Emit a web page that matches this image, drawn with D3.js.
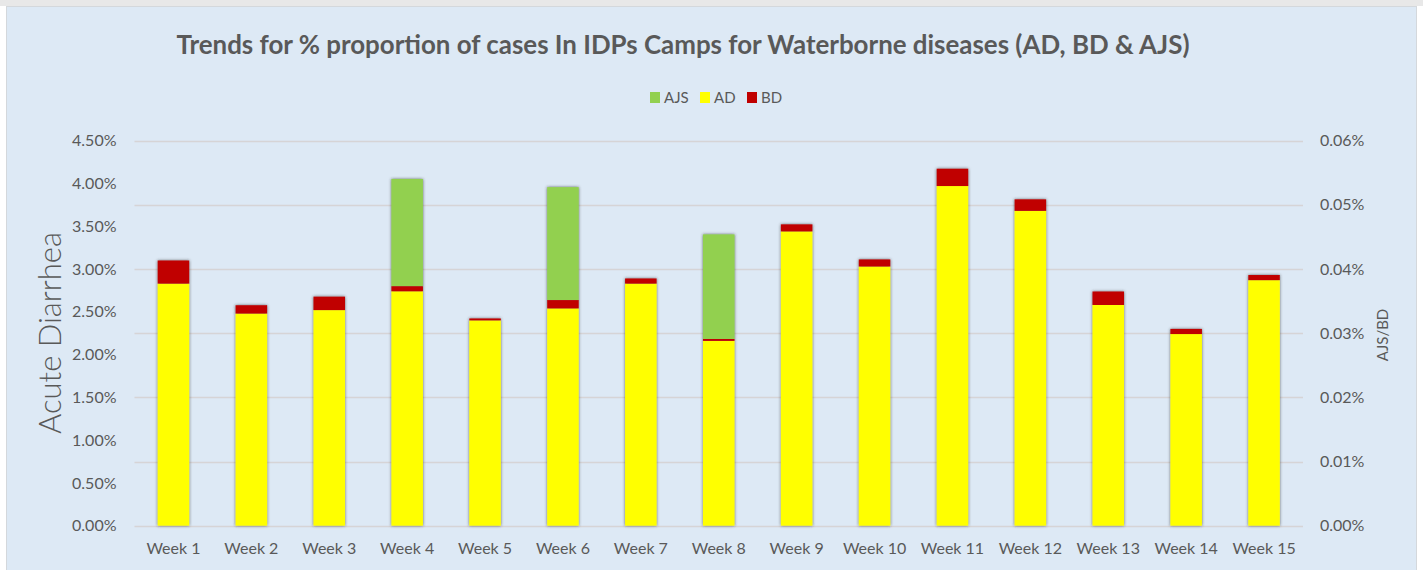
<!DOCTYPE html>
<html>
<head>
<meta charset="utf-8">
<script src="https://cdn.jsdelivr.net/npm/d3@7"></script>
<style>
  html, body { margin: 0; padding: 0; background: #ffffff; }
  svg { display: block; }
</style>
</head>
<body>
<svg id="chart" width="1423" height="570"></svg>
<script>
// ---- data ----
const weeks = ["Week 1","Week 2","Week 3","Week 4","Week 5","Week 6","Week 7","Week 8","Week 9","Week 10","Week 11","Week 12","Week 13","Week 14","Week 15"];
// Acute Diarrhea, % (left axis)
const adValues = [2.83, 2.48, 2.52, 2.74, 2.40, 2.54, 2.83, 2.16, 3.44, 3.03, 3.97, 3.68, 2.58, 2.24, 2.87];
// Bloody Diarrhea, % (right axis)
const bdValues = [0.0036, 0.0013, 0.0021, 0.0008, 0.0003, 0.0013, 0.0008, 0.0003, 0.0011, 0.0011, 0.0027, 0.0018, 0.0021, 0.0008, 0.0008];
// Acute Jaundice Syndrome, % (right axis)
const ajsValues = [0, 0, 0, 0.0167, 0, 0.0176, 0, 0.0163, 0, 0, 0, 0, 0, 0, 0];
const leftTicks = [0, 0.5, 1.0, 1.5, 2.0, 2.5, 3.0, 3.5, 4.0, 4.5];
const rightTicks = [0, 0.01, 0.02, 0.03, 0.04, 0.05, 0.06];
const legendItems = [{name: "AJS", color: "#92d050"}, {name: "AD", color: "#ffff00"}, {name: "BD", color: "#c00000"}];
const titleText = "Trends for % proportion of cases In IDPs Camps for Waterborne diseases (AD, BD & AJS)";

// ---- layout ----
const svg = d3.select("#chart");
const W = 1423, H = 570;
const plot = {left: 134.5, right: 1303, top: 140.7, bottom: 525.7};
const txt = "#595959";
const font = "Lato, 'Open Sans', sans-serif";

// frame
svg.append("rect").attr("x", 0).attr("y", 0).attr("width", W).attr("height", 6).attr("fill", "#e8e8e8");
svg.append("rect").attr("x", 6.5).attr("y", 6.5).attr("width", 1410).attr("height", 570)
  .attr("fill", "#dde9f5").attr("stroke", "#d4d8dc").attr("stroke-width", 1);

const defs = svg.append("defs");
const f = defs.append("filter").attr("id", "shadow").attr("x", "-20%").attr("y", "-5%").attr("width", "140%").attr("height", "110%");
f.append("feDropShadow").attr("dx", 0).attr("dy", 0).attr("stdDeviation", 1.8)
  .attr("flood-color", "#333").attr("flood-opacity", 0.75);

// scales
const x = d3.scaleBand().domain(weeks).range([plot.left, plot.right]).paddingInner(0.595).paddingOuter(0.2975);
const yL = d3.scaleLinear().domain([0, 4.5]).range([plot.bottom, plot.top]);
const yR = d3.scaleLinear().domain([0, 0.06]).range([plot.bottom, plot.top]);

// gridlines (secondary axis)
svg.append("g").selectAll("line").data(rightTicks).join("line")
  .attr("x1", plot.left).attr("x2", plot.right)
  .attr("y1", d => Math.round(yR(d)) + 0.5).attr("y2", d => Math.round(yR(d)) + 0.5)
  .attr("stroke", "#d6d4d6").attr("stroke-width", 1.5);

// bars
const data = weeks.map((w, i) => ({w, ad: adValues[i], bd: bdValues[i], ajs: ajsValues[i]}));
const bars = svg.append("g").attr("filter", "url(#shadow)");
const g = bars.selectAll("g").data(data).join("g");
g.append("rect").attr("x", d => x(d.w)).attr("width", x.bandwidth())
  .attr("y", d => yL(d.ad)).attr("height", d => yL(0) - yL(d.ad)).attr("fill", "#ffff00");
g.append("rect").attr("x", d => x(d.w)).attr("width", x.bandwidth())
  .attr("y", d => yL(d.ad) - (yR(0) - yR(d.bd))).attr("height", d => yR(0) - yR(d.bd)).attr("fill", "#c00000");
g.filter(d => d.ajs > 0).append("rect").attr("x", d => x(d.w)).attr("width", x.bandwidth())
  .attr("y", d => yL(d.ad) - (yR(0) - yR(d.bd)) - (yR(0) - yR(d.ajs)))
  .attr("height", d => yR(0) - yR(d.ajs)).attr("fill", "#92d050");

// left axis
const la = svg.append("g").attr("transform", `translate(${plot.left},0)`)
  .call(d3.axisLeft(yL).tickValues(leftTicks).tickFormat(d => d.toFixed(2) + "%").tickSize(0).tickPadding(18));
la.select(".domain").remove();
la.selectAll("text").attr("fill", txt).attr("font-family", font).attr("font-size", 16);

// right axis
const ra = svg.append("g").attr("transform", `translate(${plot.right},0)`)
  .call(d3.axisRight(yR).tickValues(rightTicks).tickFormat(d => d.toFixed(2) + "%").tickSize(0).tickPadding(17));
ra.select(".domain").remove();
ra.selectAll("text").attr("fill", txt).attr("font-family", font).attr("font-size", 16);

// x axis
const xa = svg.append("g").attr("transform", `translate(0,${plot.bottom})`)
  .call(d3.axisBottom(x).tickSize(0).tickPadding(17));
xa.select(".domain").remove();
xa.selectAll("text").attr("fill", txt).attr("font-family", font).attr("font-size", 16);

// axis titles
svg.append("text").attr("transform", `translate(61,333) rotate(-90)`).attr("text-anchor", "middle")
  .attr("fill", txt).attr("font-family", font).attr("font-weight", 300).attr("font-size", 31).text("Acute Diarrhea");
svg.append("text").attr("transform", `translate(1388,335) rotate(-90)`).attr("text-anchor", "middle")
  .attr("fill", txt).attr("font-family", font).attr("font-size", 15).text("AJS/BD");

// title
svg.append("text").attr("x", 683).attr("y", 54).attr("text-anchor", "middle")
  .attr("fill", txt).attr("font-family", font).attr("font-weight", "bold").attr("font-size", 26)
  .attr("textLength", 1013).attr("lengthAdjust", "spacingAndGlyphs").text(titleText);

// legend
const legendX = [650, 700, 747];
const lg = svg.append("g").selectAll("g").data(legendItems).join("g")
  .attr("transform", (d, i) => `translate(${legendX[i]},92)`);
lg.append("rect").attr("width", 10).attr("height", 11).attr("fill", d => d.color);
lg.append("text").attr("x", 14).attr("y", 10.5).attr("fill", txt).attr("font-family", font).attr("font-size", 15).text(d => d.name);
</script>
</body>
</html>
